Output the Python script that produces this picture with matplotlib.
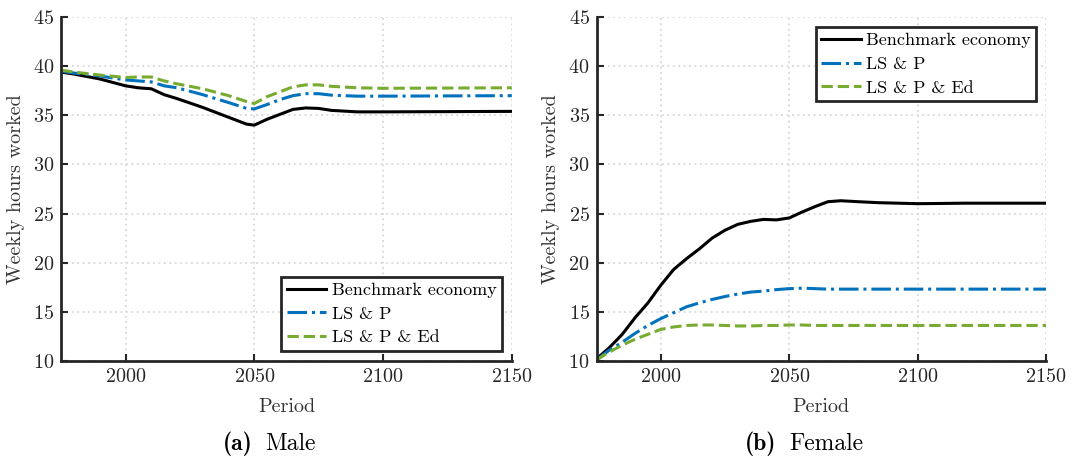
import numpy as np
import matplotlib
matplotlib.use("Agg")
import matplotlib.pyplot as plt
from matplotlib.transforms import offset_copy

plt.rcParams['font.family'] = 'cmr10'
plt.rcParams['axes.formatter.use_mathtext'] = True
plt.rcParams['mathtext.fontset'] = 'cm'

# Weekly hours worked, read at selected years
male_years = [1975, 1980, 1990, 2000, 2005, 2010, 2015, 2020, 2030, 2040, 2047, 2050,
              2055, 2060, 2065, 2070, 2075, 2080, 2090, 2100, 2150]
male_bench = [39.4, 39.2, 38.7, 38.0, 37.8, 37.7, 37.1, 36.7, 35.8, 34.8, 34.1, 34.0,
              34.6, 35.1, 35.6, 35.75, 35.7, 35.5, 35.35, 35.35, 35.4]
male_lsp = [39.5, 39.3, 39.0, 38.6, 38.5, 38.4, 38.0, 37.8, 37.1, 36.3, 35.7, 35.65,
            36.1, 36.6, 37.0, 37.2, 37.2, 37.05, 36.95, 36.95, 37.0]
male_lspe = [39.6, 39.4, 39.1, 38.85, 38.9, 38.9, 38.5, 38.2, 37.7, 37.0, 36.4, 36.2,
             36.9, 37.4, 37.9, 38.1, 38.1, 37.95, 37.8, 37.75, 37.8]

female_years = [1975, 1980, 1985, 1990, 1995, 2000, 2005, 2010, 2015, 2020, 2025, 2030,
                2035, 2040, 2045, 2050, 2055, 2060, 2065, 2070, 2077, 2085, 2100, 2118, 2150]
female_bench = [10.2, 11.35, 12.7, 14.4, 15.9, 17.7, 19.3, 20.4, 21.4, 22.5, 23.3, 23.9,
                24.2, 24.4, 24.35, 24.55, 25.15, 25.7, 26.2, 26.3, 26.2, 26.1, 26.0, 26.05, 26.05]
female_lsp = [10.1, 11.1, 11.9, 12.8, 13.6, 14.3, 14.9, 15.5, 15.9, 16.25, 16.55, 16.8,
              17.0, 17.1, 17.25, 17.35, 17.4, 17.35, 17.3, 17.3, 17.3, 17.3, 17.3, 17.3, 17.3]
female_lspe = [10.1, 10.9, 11.6, 12.2, 12.7, 13.2, 13.45, 13.6, 13.65, 13.65, 13.6, 13.55,
               13.55, 13.6, 13.6, 13.65, 13.65, 13.6, 13.6, 13.6, 13.6, 13.6, 13.6, 13.6, 13.6]

labels = ['Benchmark economy', 'LS & P', 'LS & P & Ed']
colors = ['black', '#0072BD', '#77AC30']
styles = ['-', '-.', '--']

fig = plt.figure(figsize=(10.73, 4.62), dpi=100)
ax1 = fig.add_axes([0.057, 0.219, 0.420, 0.744])
ax2 = fig.add_axes([0.556, 0.219, 0.419, 0.744])

panels = [
    (ax1, male_years, [male_bench, male_lsp, male_lspe], 'lower right', '(a)', 'Male'),
    (ax2, female_years, [female_bench, female_lsp, female_lspe], 'upper right', '(b)', 'Female'),
]

renderer = fig.canvas.get_renderer()

for ax, yrs, series, loc, tag, name in panels:
    for s, lab, c, ls in zip(series, labels, colors, styles):
        ax.plot(yrs, s, color=c, ls=ls, lw=2.2, label=lab)
    ax.set_xlim(1975, 2150)
    ax.set_ylim(10, 45)
    ax.set_xticks([2000, 2050, 2100, 2150])
    ax.set_yticks(np.arange(10, 46, 5))
    ax.grid(True, ls=(0, (1, 2)), color='#d8d8d8', lw=1.3)
    ax.set_axisbelow(True)
    for sp in ['top', 'right']:
        ax.spines[sp].set_visible(False)
    for sp in ['left', 'bottom']:
        ax.spines[sp].set_linewidth(2)
        ax.spines[sp].set_color('#262626')
    ax.tick_params(direction='in', length=5, width=1.5, colors='#262626',
                   labelsize=14.5, labelcolor='#262626', pad=5)
    ax.set_xlabel('Period', fontsize=14.5, color='#333333', labelpad=9)
    ax.set_ylabel('Weekly hours worked', fontsize=14.5, color='#333333', labelpad=6)
    leg = ax.legend(loc=loc, fontsize=13, handlelength=2.2, handletextpad=0.3,
                    borderpad=0.3, labelspacing=0.45, fancybox=False, framealpha=1,
                    borderaxespad=0.55)
    leg.get_frame().set_edgecolor('#262626')
    leg.get_frame().set_linewidth(2)

    # caption: bold tag + name, centred a little left of the axes centre
    t1 = ax.text(0.5, -0.259, tag, transform=ax.transAxes, ha='left',
                 va='baseline', fontsize=17, family='cmb10')
    t2 = ax.text(0.5, -0.259, name, transform=ax.transAxes, ha='left',
                 va='baseline', fontsize=17)
    w1 = t1.get_window_extent(renderer).width
    w2 = t2.get_window_extent(renderer).width
    gap = 13
    start = -17 - (w1 + gap + w2) / 2
    t1.set_transform(offset_copy(ax.transAxes, fig=fig, x=start, units='dots'))
    t2.set_transform(offset_copy(ax.transAxes, fig=fig, x=start + w1 + gap, units='dots'))

fig.savefig('out.png', dpi=100)
